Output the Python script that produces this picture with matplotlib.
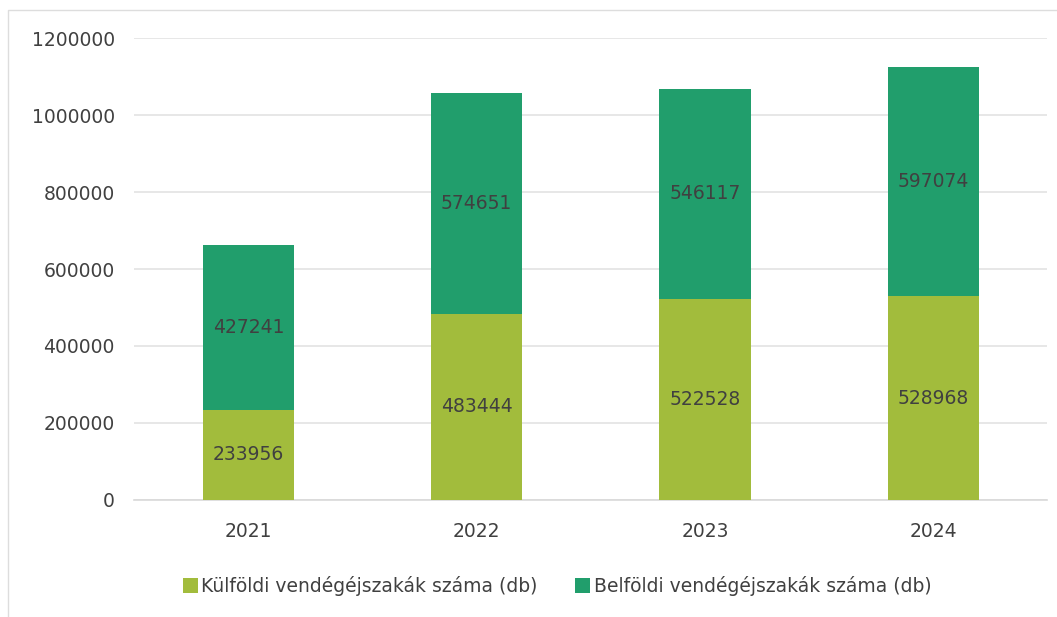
import matplotlib.pyplot as plt
from matplotlib.lines import Line2D

# chart data
years = ['2021', '2022', '2023', '2024']
kulfoldi = [233956, 483444, 522528, 528968]
belfoldi = [427241, 574651, 546117, 597074]

green_light = '#A2BC3C'
green_dark = '#219E6C'
text_col = '#404040'

plt.rcParams['font.family'] = ['DejaVu Sans']

fig = plt.figure(figsize=(10.57, 6.17), dpi=100)
ax = fig.add_axes([0.127, 0.19, 0.864, 0.748])

# light frame (top and left edges only visible in the crop)
fig.lines.append(Line2D([0.008, 0.008, 1.0], [0.0, 0.983, 0.983], transform=fig.transFigure,
                        color='#DDDDDD', linewidth=1))

x = range(len(years))
b1 = ax.bar(x, kulfoldi, width=0.4, color=green_light, label='Külföldi vendégéjszakák száma (db)', zorder=3)
b2 = ax.bar(x, belfoldi, width=0.4, bottom=kulfoldi, color=green_dark,
            label='Belföldi vendégéjszakák száma (db)', zorder=3)

ax.bar_label(b1, labels=[str(v) for v in kulfoldi], label_type='center', fontsize=13.5, color=text_col)
ax.bar_label(b2, labels=[str(v) for v in belfoldi], label_type='center', fontsize=13.5, color=text_col)

ax.set_xlim(-0.5, 3.5)
ax.set_ylim(0, 1200000)
ax.set_yticks(range(0, 1200001, 200000))
ax.set_yticklabels([str(v) for v in range(0, 1200001, 200000)])
ax.set_xticks(list(x))
ax.set_xticklabels(years)
ax.yaxis.grid(True, color='#E3E3E3', linewidth=1.2, zorder=0)
ax.set_axisbelow(True)
for s in ['top', 'right', 'left']:
    ax.spines[s].set_visible(False)
ax.spines['bottom'].set_color('#D9D9D9')
ax.spines['bottom'].set_linewidth(1.2)
ax.tick_params(axis='both', length=0, labelsize=13.5, colors=text_col, pad=14)
ax.tick_params(axis='x', pad=16)

fig.legend(handles=[b1, b2], loc='center', bbox_to_anchor=(0.527, 0.05), ncol=2, frameon=False,
           fontsize=13.5, labelcolor=text_col, handlelength=0.8, handleheight=0.8,
           handletextpad=0.2, columnspacing=2.0)

fig.savefig('out.png', dpi=100)
